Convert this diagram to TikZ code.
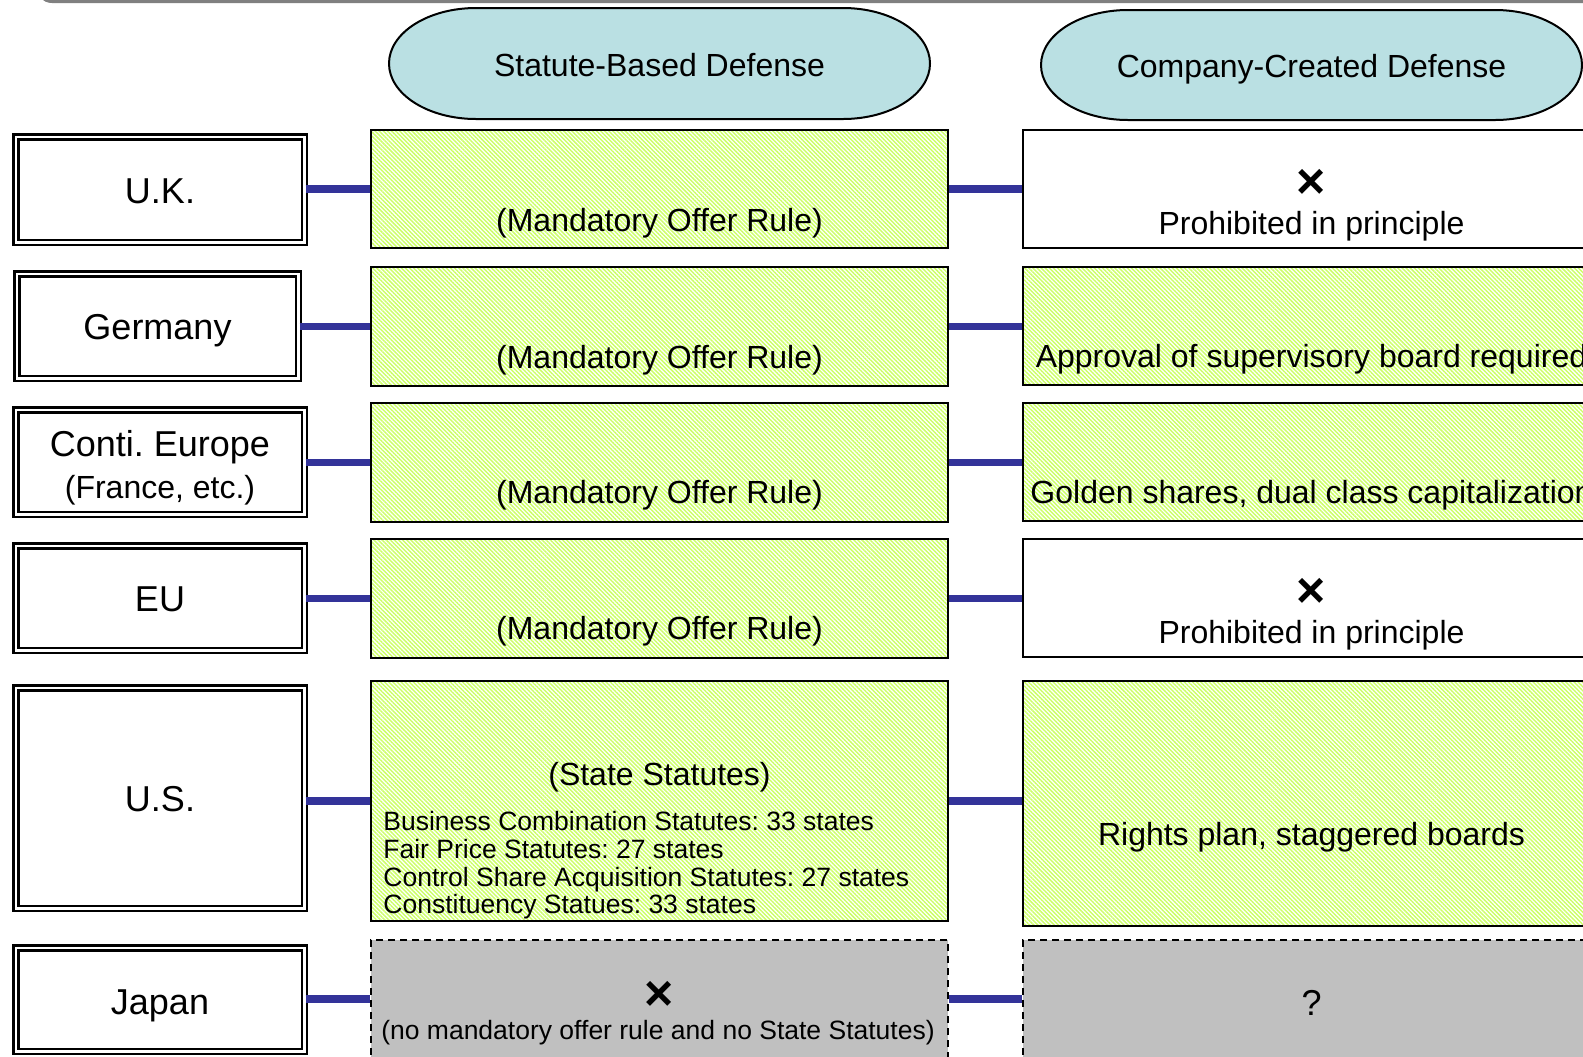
\documentclass[tikz,border=0pt]{standalone}
\usepackage{fontspec}
\setmainfont{Liberation Sans}
\usetikzlibrary{patterns.meta}
\frenchspacing

\definecolor{hdrfill}{RGB}{186,224,227}
\definecolor{hatchgreen}{RGB}{204,255,102}
\definecolor{linkblue}{RGB}{51,51,153}
\definecolor{nonefill}{RGB}{192,192,192}
\definecolor{framegray}{RGB}{128,128,128}

\newcommand\szL{\fontsize{18}{21}\selectfont}
\newcommand\szM{\fontsize{16}{19}\selectfont}
\newcommand\szS{\fontsize{13.25}{13.85}\selectfont}
\newcommand\szX{\fontsize{25}{25}\selectfont\bfseries}

% terminator-shaped header: #1,#2 = top-left, #3,#4 = bottom-right (px units)
\newcommand\termshape[4]{%
  \filldraw[hdrshape] (#1+87,#2) -- (#3-87,#2)
    arc[start angle=90,end angle=-90,x radius=43.5pt,y radius=(#4-#2)*0.25pt]
    -- (#1+87,#4)
    arc[start angle=270,end angle=90,x radius=43.5pt,y radius=(#4-#2)*0.25pt]
    -- cycle;}

\begin{document}
\begin{tikzpicture}[x=0.5pt,y=-0.5pt,
  hdrshape/.style={fill=hdrfill,draw=black,line width=1pt},
  country/.style={draw=black,line width=1.25pt,double=white,double distance=1.25pt,
    inner sep=0pt},
  clabel/.style={inner sep=0pt,align=center,font=\szL},
  hatched/.style={draw=black,line width=1pt,inner sep=0pt,minimum width=288.5pt,
    pattern={Lines[angle=-45,distance=1.45pt,line width=0.72pt]},pattern color=hatchgreen},
  plainbox/.style={draw=black,line width=1pt,fill=white,inner sep=0pt,minimum width=288.5pt},
  nonebox/.style={draw=black,line width=0.9pt,dash pattern=on 3.5pt off 2.5pt,
    fill=nonefill,inner sep=0pt,minimum width=288.5pt},
  link/.style={draw=linkblue,line width=3.9pt},
  txt/.style={inner sep=0pt,font=\szM},
  cross/.style={inner sep=0pt,font=\szX}]

\useasboundingbox (0,0) rectangle (1583,1056);
\clip (0,0) rectangle (1583,1056);

% frame edge along the top
\draw[framegray,line width=2pt,rounded corners=7pt] (38,-40) -- (38,1) -- (1700,1);

% column headers
\termshape{389}{8}{930}{119}
\termshape{1041}{10}{1582}{120}
\node[txt] (hdrA) at (659.5,65) {Statute-Based Defense};
\node[txt] (hdrB) at (1311.5,69) {Company-Created Defense};

% countries
\node[country,minimum width=144.25pt,minimum height=52.75pt] (uk) at (160,189.5) {};
\node[country,minimum width=140.75pt,minimum height=52.25pt] (de) at (157.5,326) {};
\node[country,minimum width=144.25pt,minimum height=52.25pt] (ce) at (160,462) {};
\node[country,minimum width=144.25pt,minimum height=52.25pt] (eu) at (160,598) {};
\node[country,minimum width=144.25pt,minimum height=110.25pt] (us) at (160,798) {};
\node[country,minimum width=144.25pt,minimum height=51.75pt] (jp) at (160,999.5) {};
\node[clabel] (ukT) at (160,191) {U.K.};
\node[clabel] (deT) at (157.5,331) {Germany};
\node[clabel] (ceT) at (160,468) {Conti. Europe\\[0pt]{\szM (France, etc.)}};
\node[clabel] (euT) at (160,599) {EU};
\node[clabel] (usT) at (160,799) {U.S.};
\node[clabel] (jpT) at (160,1005.5) {Japan};

% statute-based column
\node[hatched,minimum height=59pt] (g1) at (659.5,189) {};
\node[hatched,minimum height=59.5pt] (g2) at (659.5,326.5) {};
\node[hatched,minimum height=59.5pt] (g3) at (659.5,462.5) {};
\node[hatched,minimum height=59.5pt] (g4) at (659.5,598.5) {};
\node[hatched,minimum height=120pt] (g5) at (659.5,801) {};
\node[nonebox,minimum height=59pt] (g6) at (659.5,999) {};

% company-created column
\node[plainbox,minimum height=59pt] (r1) at (1311.5,189) {};
\node[hatched,minimum height=59pt] (r2) at (1311.5,326) {};
\node[hatched,minimum height=59pt] (r3) at (1311.5,462) {};
\node[plainbox,minimum height=59pt] (r4) at (1311.5,598) {};
\node[hatched,minimum height=122.5pt] (r5) at (1311.5,803.5) {};
\node[nonebox,minimum height=59pt] (r6) at (1311.5,999) {};

% connectors
\foreach \c/\g/\r in {uk/g1/r1,de/g2/r2,ce/g3/r3,eu/g4/r4,us/g5/r5,jp/g6/r6}{
  \draw[link] (\c.east |- \g.west) -- (\g.west);
  \draw[link] (\g.east) -- (\g.east -| \r.west);
}

% statute-based texts
\node[txt] (m1) at (659.5,223) {(Mandatory Offer Rule)};
\node[txt] (m2) at (659.5,360) {(Mandatory Offer Rule)};
\node[txt] (m3) at (659.5,495) {(Mandatory Offer Rule)};
\node[txt] (m4) at (659.5,631) {(Mandatory Offer Rule)};
\node[txt] (m5) at (659.5,777) {(State Statutes)};
\node[inner sep=0pt,font=\szS,align=left,anchor=west] (m5list) at (383,865.5)
  {Business Combination Statutes: 33 states\\
   Fair Price Statutes: 27 states\\
   Control Share Acquisition Statutes: 27 states\\
   Constituency Statues: 33 states};
\node[cross] (m6x) at (659,996) {×};
\node[inner sep=0pt,font=\szS] (m6) at (658,1033)
  {(no mandatory offer rule and no State Statutes)};

% company-created texts
\node[cross] (c1x) at (1311.5,184) {×};
\node[txt] (c1) at (1311.5,226) {Prohibited in principle};
\node[txt] (c2) at (1311.5,359) {Approval of supervisory board required};
\node[txt] (c3) at (1311.5,495) {Golden shares, dual class capitalization};
\node[cross] (c4x) at (1311.5,593) {×};
\node[txt] (c4) at (1311.5,635) {Prohibited in principle};
\node[txt] (c5) at (1311.5,837) {Rights plan, staggered boards};
\node[inner sep=0pt,font=\szL] (c6) at (1311.5,1003) {?};

\end{tikzpicture}
\end{document}
